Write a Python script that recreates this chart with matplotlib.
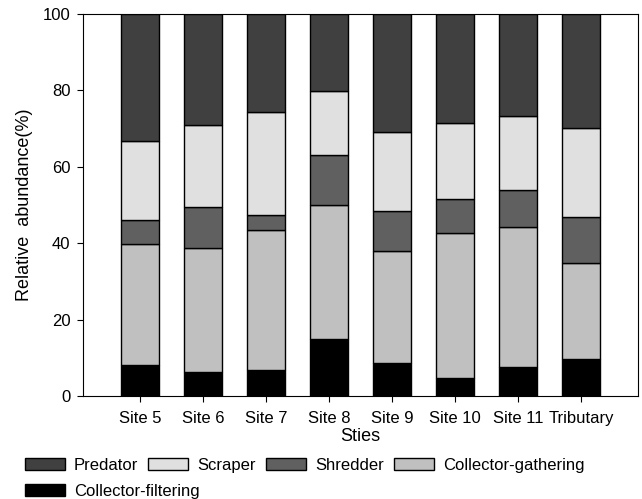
import matplotlib
matplotlib.use("Agg")
import matplotlib.pyplot as plt
import numpy as np

plt.rcParams['font.family'] = ['Liberation Sans', 'DejaVu Sans']

sites = ['Site 5', 'Site 6', 'Site 7', 'Site 8', 'Site 9', 'Site 10', 'Site 11', 'Tributary']
# relative abundance (%) per group
filtering = [8.1, 6.3, 6.8, 14.9, 8.7, 4.8, 7.7, 9.6]
gathering = [31.6, 32.3, 36.5, 35.1, 29.3, 37.8, 36.5, 25.3]
shredder = [6.4, 10.8, 3.9, 13.1, 10.3, 9.0, 9.7, 12.0]
scraper = [20.6, 21.4, 27.1, 16.6, 20.7, 19.7, 19.2, 23.1]
predator = [33.3, 29.2, 25.7, 20.3, 31.0, 28.7, 26.9, 30.0]

groups = [
    ('Collector-filtering', filtering, '#000000'),
    ('Collector-gathering', gathering, '#c0c0c0'),
    ('Shredder', shredder, '#606060'),
    ('Scraper', scraper, '#e0e0e0'),
    ('Predator', predator, '#404040'),
]

fig = plt.figure(figsize=(6.42, 4.99), dpi=100)
ax = fig.add_axes([0.1293, 0.2064, 0.8645, 0.7665])

x = np.arange(len(sites))
bottom = np.zeros(len(sites))
bars = {}
for name, vals, color in groups:
    bars[name] = ax.bar(x, vals, width=0.6, bottom=bottom, color=color,
                        edgecolor='black', linewidth=1.0)
    bottom += np.array(vals)

ax.set_ylim(0, 100)
ax.set_xlim(-0.905, 7.905)
ax.set_yticks([0, 20, 40, 60, 80, 100])
ax.set_xticks(x, labels=sites)
ax.tick_params(axis='both', labelsize=12, direction='out', length=4, pad=5)
ax.tick_params(axis='x', pad=6.5)
ax.set_ylabel('Relative  abundance(%)', fontsize=13, labelpad=7)
ax.set_xlabel('Sties', fontsize=13, labelpad=1.5)

leg_kw = dict(frameon=False, fontsize=12, handlelength=2.4, handleheight=0.72,
              handletextpad=0.54, columnspacing=0.6, borderaxespad=0, borderpad=0)
order = ['Predator', 'Scraper', 'Shredder', 'Collector-gathering']
fig.legend([bars[n] for n in order], order, ncol=4, loc='center left',
           bbox_to_anchor=(0.039, 0.068), **leg_kw)
fig.legend([bars['Collector-filtering']], ['Collector-filtering'], loc='center left',
           bbox_to_anchor=(0.039, 0.016), **leg_kw)

fig.savefig('out.png', dpi=100)
